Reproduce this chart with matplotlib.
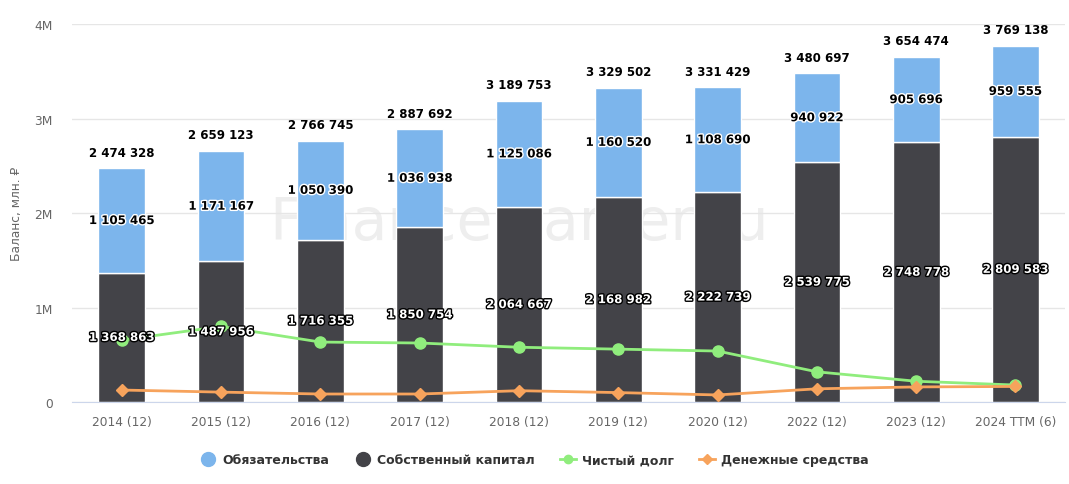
import matplotlib.pyplot as plt
import matplotlib.patheffects as pe
from matplotlib.lines import Line2D
import numpy as np

plt.rcParams['font.family'] = ['DejaVu Sans']

years = ["2014 (12)", "2015 (12)", "2016 (12)", "2017 (12)", "2018 (12)",
         "2019 (12)", "2020 (12)", "2022 (12)", "2023 (12)", "2024 TTM (6)"]
equity = [1368863, 1487956, 1716355, 1850754, 2064667,
          2168982, 2222739, 2539775, 2748778, 2809583]
liabilities = [1105465, 1171167, 1050390, 1036938, 1125086,
               1160520, 1108690, 940922, 905696, 959555]
totals = [2474328, 2659123, 2766745, 2887692, 3189753,
          3329502, 3331429, 3480697, 3654474, 3769138]
net_debt = [656000, 800000, 635000, 625000, 580000,
            560000, 540000, 320000, 220000, 180000]
cash = [127000, 105000, 85000, 85000, 120000,
        100000, 75000, 140000, 160000, 165000]

c_blue = "#7cb5ec"
c_dark = "#434348"
c_green = "#90ed7d"
c_orange = "#f7a35c"

def fmt(v):
    return f"{v:,}".replace(",", " ")

fig = plt.figure(figsize=(10.69, 4.85), dpi=100)
ax = fig.add_axes([0.0674, 0.169, 0.929, 0.779])

x = np.arange(len(years))
w = 0.47

# watermark
ax.text(4.0, 1.9e6, "FinanceMarker.ru", fontsize=42, color="#eeeeee",
        ha="center", va="center", zorder=0.5)

ax.bar(x, equity, w, color=c_dark, edgecolor="white", linewidth=1, zorder=2)
ax.bar(x, liabilities, w, bottom=equity, color=c_blue, edgecolor="white",
       linewidth=1, zorder=2)

ax.plot(x, net_debt, color=c_green, lw=2, marker="o", ms=8, zorder=3)
ax.plot(x, cash, color=c_orange, lw=2, marker="D", ms=6, zorder=3)

for i in range(len(x)):
    ax.text(x[i], equity[i] / 2, fmt(equity[i]), ha="center", va="center",
            fontsize=8.5, fontweight="bold", color="white", zorder=5,
            path_effects=[pe.withStroke(linewidth=2, foreground="black")])
    ax.text(x[i], equity[i] + liabilities[i] / 2, fmt(liabilities[i]),
            ha="center", va="center", fontsize=8.5, fontweight="bold",
            color="black", zorder=5,
            path_effects=[pe.withStroke(linewidth=2, foreground="white")])
    ax.annotate(fmt(totals[i]), (x[i], totals[i]), xytext=(0, 7),
                textcoords="offset points", ha="center", va="bottom",
                fontsize=8.5, fontweight="bold", color="black", zorder=5)

ax.set_xlim(-0.5, len(x) - 0.5)
ax.set_ylim(0, 4e6)
ax.set_yticks([0, 1e6, 2e6, 3e6, 4e6])
ax.set_yticklabels(["0", "1M", "2M", "3M", "4M"])
ax.set_xticks(x)
ax.set_xticklabels(years)
ax.tick_params(axis="both", length=0, colors="#666666", labelsize=8.8)
ax.tick_params(axis="x", pad=9)
ax.tick_params(axis="y", pad=14)
ax.grid(axis="y", color="#e6e6e6", lw=1, zorder=0)
ax.set_axisbelow(True)
for s in ["top", "right", "left"]:
    ax.spines[s].set_visible(False)
ax.spines["bottom"].set_color("#ccd6eb")
ax.set_ylabel("Баланс, млн. ₽", color="#666666", fontsize=8.8, labelpad=8)

handles = [
    Line2D([], [], marker="o", ls="none", color=c_blue, ms=10),
    Line2D([], [], marker="o", ls="none", color=c_dark, ms=10),
    Line2D([], [], marker="o", color=c_green, lw=2, ms=6),
    Line2D([], [], marker="D", color=c_orange, lw=2, ms=5),
]
labels = ["Обязательства", "Собственный капитал", "Чистый долг", "Денежные средства"]
leg = fig.legend(handles, labels, loc="center", bbox_to_anchor=(0.5, 0.05),
                 ncol=4, frameon=False, fontsize=9, handlelength=1.3,
                 columnspacing=2.0, handletextpad=0.5)
for t in leg.get_texts():
    t.set_color("#333333")
    t.set_fontweight("bold")

fig.savefig("out.png", dpi=100)
